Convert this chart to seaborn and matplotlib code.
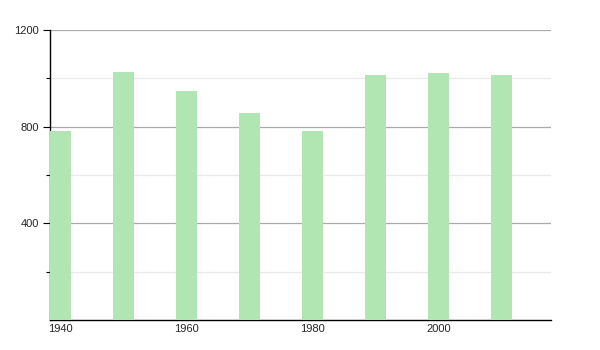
import matplotlib
matplotlib.use("Agg")
import matplotlib.pyplot as plt
import seaborn as sns
import pandas as pd
from matplotlib.ticker import MultipleLocator

years = [1940, 1950, 1960, 1970, 1980, 1990, 2000, 2010]
population = [782, 1027, 947, 856, 782, 1013, 1022, 1013]
y_ticks = [400, 800, 1200]
x_ticks = [1940, 1960, 1980, 2000]

sns.set_style("white")
plt.rcParams['font.family'] = ['Liberation Sans', 'DejaVu Sans']

df = pd.DataFrame({"year": years, "pop": population})

fig = plt.figure(figsize=(6, 3.5), dpi=100)
ax = fig.add_axes([50/600, 1 - 320/350, 501/600, 290/350])

sns.barplot(data=df, x="year", y="pop", native_scale=True, width=0.33,
            color="#b1e5b1", saturation=1, edgecolor="none", ax=ax, zorder=3)

ax.set_xlim(1938.35, 2017.9)
ax.set_ylim(0, 1200)
ax.set_xticks(x_ticks)
ax.set_xticklabels([str(t) for t in x_ticks])
ax.set_yticks(y_ticks)
ax.set_yticklabels([str(t) for t in y_ticks])
ax.yaxis.set_minor_locator(MultipleLocator(400))
ax.set_yticks([200, 600, 1000], minor=True)

ax.grid(axis="y", which="major", color="#aaaaaa", linewidth=0.9, zorder=0)
ax.grid(axis="y", which="minor", color="#e8e8e8", linewidth=0.9, zorder=0)
ax.set_axisbelow(True)

for s in ["top", "right"]:
    ax.spines[s].set_visible(False)
for s in ["left", "bottom"]:
    ax.spines[s].set_color("black")
    ax.spines[s].set_linewidth(1.0)

ax.tick_params(axis="y", which="major", length=5, width=0.8, color="black",
               labelsize=8, pad=3, left=True)
ax.tick_params(axis="y", which="minor", length=3, width=0.8, color="black", left=True)
ax.tick_params(axis="x", which="major", length=0, labelsize=8, pad=3)

ax.set_xlabel("")
ax.set_ylabel("")

fig.savefig("out.png", dpi=100)
